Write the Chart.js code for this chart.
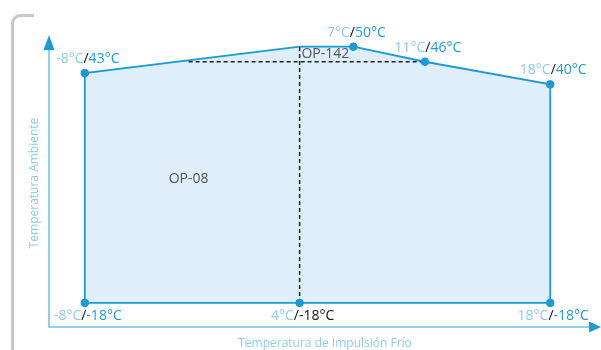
<!DOCTYPE html>
<html><head><meta charset="utf-8">
<script src="https://cdn.jsdelivr.net/npm/chart.js@4"></script>
<style>html,body{margin:0;padding:0;background:#fff}#wrap{width:601px;height:350px;position:relative}</style>
</head><body><div id="wrap"><canvas id="c" width="601" height="350"></canvas></div>
<script>
// Operating envelope (supply temp °C, ambient temp °C)
const envelopeX = [-8, -8, 4, 7, 11, 18, 18, 4, -8];
const envelopeY = [-18, 43, 50, 50, 46, 40, -18, -18, -18];
// Labelled points
const pointX = [-8, 7, 11, 18, -8, 4, 18];
const pointY = [43, 50, 46, 40, -18, -18, -18];
const pointLabelA = ['-8°C', '7°C', '11°C', '18°C', '-8°C', '4°C', '18°C'];
const pointLabelB = ['43°C', '50°C', '46°C', '40°C', '-18°C', '-18°C', '-18°C'];
const pointBelow = [false, false, false, false, true, true, true];
const pointBBlack = [false, false, false, false, false, true, false];
// Divider lines between zones
const dividerVX = [4, 4];
const dividerVY = [-18, 50];
const dividerHX = [-2.2, 11];
const dividerHY = [46, 46];
const zoneNames = ['OP-08', 'OP-142'];
const zoneX = [-2.2, 4.1];
const zoneY = [14.9, 48];
const xTitle = 'Temperatura de Impulsión Frío';
const yTitle = 'Temperatura Ambiente';

const toXY = (xs, ys) => xs.map((x, i) => ({x, y: ys[i]}));
const FONT = '"Open Sans", sans-serif';
const BLUE = '#1a9ad6', LIGHT = '#8ccbee', AXIS = '#6cc0ea';

const decor = {
  id: 'decor',
  beforeDatasetsDraw(chart) {
    const ctx = chart.ctx, a = chart.chartArea;
    ctx.save();
    // grey bracket
    ctx.strokeStyle = '#c8c8c8'; ctx.lineWidth = 3;
    ctx.beginPath(); ctx.moveTo(34, 15.5); ctx.lineTo(21, 15.5);
    ctx.arcTo(12.5, 15.5, 12.5, 25, 8); ctx.lineTo(12.5, 352); ctx.stroke();
    // axes
    ctx.strokeStyle = AXIS; ctx.lineWidth = 1.5;
    ctx.beginPath(); ctx.moveTo(a.left, 48); ctx.lineTo(a.left, a.bottom); ctx.lineTo(590, a.bottom); ctx.stroke();
    ctx.fillStyle = BLUE;
    ctx.beginPath(); ctx.moveTo(a.left, 35); ctx.lineTo(a.left - 5.5, 50); ctx.lineTo(a.left + 5.5, 50); ctx.closePath(); ctx.fill();
    ctx.beginPath(); ctx.moveTo(601, a.bottom); ctx.lineTo(589, a.bottom - 5.5); ctx.lineTo(589, a.bottom + 5.5); ctx.closePath(); ctx.fill();
    // axis titles
    ctx.fillStyle = LIGHT; ctx.font = '12px ' + FONT; ctx.textAlign = 'center'; ctx.textBaseline = 'middle';
    ctx.fillText(xTitle, 325, 344);
    ctx.save(); ctx.translate(35, 183); ctx.rotate(-Math.PI / 2); ctx.fillText(yTitle, 0, 0); ctx.restore();
    ctx.restore();
  },
  afterDatasetsDraw(chart) {
    const ctx = chart.ctx, xs = chart.scales.x, ys = chart.scales.y;
    ctx.save();
    ctx.font = '14px ' + FONT; ctx.textBaseline = 'middle';
    pointX.forEach((v, i) => {
      const px = xs.getPixelForValue(v), py = ys.getPixelForValue(pointY[i]);
      const ty = pointBelow[i] ? py + 13 : py - 14;
      const a = pointLabelA[i], b = '/' + pointLabelB[i];
      const wa = ctx.measureText(a).width, wb = ctx.measureText(b).width;
      let x0 = px - (wa + wb) / 2 + 3;
      ctx.textAlign = 'left';
      ctx.fillStyle = LIGHT; ctx.fillText(a, x0, ty);
      ctx.fillStyle = '#111'; ctx.fillText('/', x0 + wa, ty);
      ctx.fillStyle = pointBBlack[i] ? '#111' : BLUE;
      ctx.fillText(pointLabelB[i], x0 + wa + ctx.measureText('/').width, ty);
    });
    ctx.fillStyle = '#555'; ctx.font = '14px ' + FONT;
    zoneNames.forEach((n, i) => {
      ctx.textAlign = i === 0 ? 'center' : 'left';
      ctx.fillText(n, xs.getPixelForValue(zoneX[i]), ys.getPixelForValue(zoneY[i]));
    });
    ctx.restore();
  }
};

new Chart(document.getElementById('c'), {
  type: 'line',
  data: {
    datasets: [
      { data: toXY(envelopeX, envelopeY), borderColor: BLUE, borderWidth: 1.8,
        backgroundColor: '#deeefa', fill: 'shape', pointRadius: 0, tension: 0, order: 3 },
      { data: toXY(dividerVX, dividerVY), borderColor: '#222', borderWidth: 1.5,
        borderDash: [4, 3], pointRadius: 0, fill: false, order: 2 },
      { data: toXY(dividerHX, dividerHY), borderColor: '#222', borderWidth: 1.5,
        borderDash: [4, 3], pointRadius: 0, fill: false, order: 2 },
      { data: toXY(pointX, pointY), showLine: false, pointRadius: 3.8, pointBackgroundColor: BLUE,
        pointBorderColor: BLUE, pointBorderWidth: 1, fill: false, order: 1 }
    ]
  },
  options: {
    responsive: false, animation: false, devicePixelRatio: 1,
    layout: { padding: { left: 49, right: 6, top: 35, bottom: 23 } },
    plugins: { legend: { display: false }, tooltip: { enabled: false } },
    scales: {
      x: { type: 'linear', min: -10, max: 20.5, display: false },
      y: { type: 'linear', min: -24.4, max: 53.1, display: false }
    }
  },
  plugins: [decor]
});
</script></body></html>
